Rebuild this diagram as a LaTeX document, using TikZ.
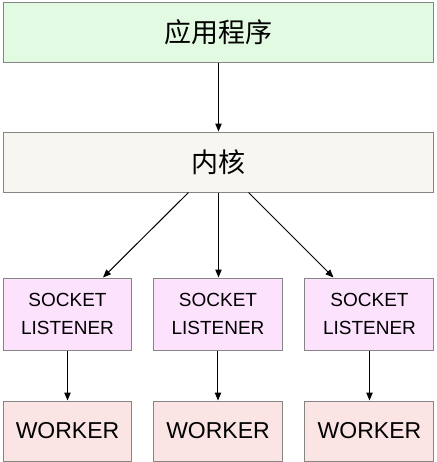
\documentclass[tikz,border=0pt]{standalone}
\usepackage{fontspec}
\setmainfont{Liberation Sans}
\newfontfamily\cjk{Noto Sans CJK SC}
\usetikzlibrary{arrows.meta,positioning}
\definecolor{appgreen}{HTML}{E2FAE2}
\definecolor{kerngray}{HTML}{F8F6F0}
\definecolor{sockpink}{HTML}{FCE2FC}
\definecolor{workrose}{HTML}{FAE4E4}
\definecolor{edgegray}{HTML}{858585}

\begin{document}
\begin{tikzpicture}[x=0.5pt,y=-0.5pt,>={Triangle[length=4pt,width=3.2pt]},line width=0.5pt,
  wide/.style={draw=edgegray,minimum width=215.5pt,minimum height=30pt,inner sep=0pt,font=\cjk\fontsize{13.5}{16}\selectfont},
  sock/.style={draw=edgegray,fill=sockpink,minimum width=64.5pt,minimum height=36pt,inner sep=0pt,align=center,font=\fontsize{9.5}{14}\selectfont},
  work/.style={draw=edgegray,fill=workrose,minimum width=64.5pt,minimum height=30pt,inner sep=0pt,font=\fontsize{11.5}{14}\selectfont}]
\useasboundingbox (0,0) rectangle (436,462);
\node[wide,fill=appgreen] (app) at (218.5,32) {应用程序};
\node[wide,fill=kerngray] (kern) at (218.5,162) {内核};
\node[sock] (s1) at (67.5,314) {SOCKET\\LISTENER};
\node[sock] (s2) at (218,314) {SOCKET\\LISTENER};
\node[sock] (s3) at (369.5,314) {SOCKET\\LISTENER};
\node[work,below=25pt of s1] (w1) {WORKER};
\node[work,below=25pt of s2] (w2) {WORKER};
\node[work,below=25pt of s3] (w3) {WORKER};
\draw[->] (app)--(kern);
\draw[->] ([xshift=-15pt]kern.south)--([xshift=17.75pt]s1.north);
\draw[->] (kern.south)--(kern.south|-s2.north);
\draw[->] ([xshift=15pt]kern.south)--([xshift=-18pt]s3.north);
\draw[->](s1)--(w1);\draw[->](s2)--(w2);\draw[->](s3)--(w3);
\end{tikzpicture}
\end{document}
